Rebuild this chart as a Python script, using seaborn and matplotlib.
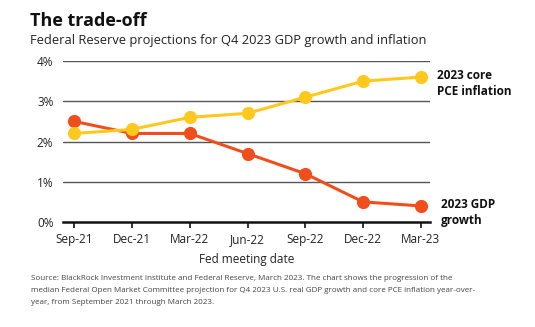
import matplotlib
matplotlib.use("Agg")
import matplotlib.pyplot as plt
import seaborn as sns
import pandas as pd

dates = ["Sep-21", "Dec-21", "Mar-22", "Jun-22", "Sep-22", "Dec-22", "Mar-23"]
gdp = [2.5, 2.2, 2.2, 1.7, 1.2, 0.5, 0.4]
pce = [2.2, 2.3, 2.6, 2.7, 3.1, 3.5, 3.6]
yticks = [0, 1, 2, 3, 4]
ytick_labels = ["0%", "1%", "2%", "3%", "4%"]

sns.set_theme(style="white")
plt.rcParams["font.family"] = ["Open Sans", "DejaVu Sans"]

df = pd.DataFrame({"pos": list(range(len(dates))) * 2,
                   "value": gdp + pce,
                   "series": ["gdp"] * len(dates) + ["pce"] * len(dates)})

fig = plt.figure(figsize=(5.35, 3.27), dpi=100)
ax = fig.add_axes([0.118, 0.321, 0.686, 0.4925])

RED = "#F04E1C"
YEL = "#FFC81E"
sns.lineplot(data=df, x="pos", y="value", hue="series", palette={"gdp": RED, "pce": YEL},
             hue_order=["gdp", "pce"], marker="o", markersize=9.5, markeredgewidth=0,
             linewidth=2.2, legend=False, ax=ax)

ax.set_xlim(-0.19, 6.16)
ax.set_ylim(0, 4)
ax.set_yticks(yticks)
ax.set_yticklabels(ytick_labels, fontsize=8.5, color="#222222")
ax.set_xticks(range(len(dates)))
ax.set_xticklabels(dates, fontsize=8.5, color="#222222")
for y in yticks[1:]:
    ax.axhline(y, color="#555555", linewidth=1.0, zorder=0)
for s in ["top", "right", "left"]:
    ax.spines[s].set_visible(False)
ax.spines["bottom"].set_color("#111111")
ax.spines["bottom"].set_linewidth(1.8)
ax.tick_params(axis="x", length=4, width=1.2, color="#111111", pad=4, direction="out", bottom=True)
ax.tick_params(axis="y", length=0, pad=7)
ax.set_ylabel("")
ax.set_xlabel("Fed meeting date", fontsize=8.5, color="#222222", labelpad=5)

ax.text(1.02, 0.86, "2023 core\nPCE inflation", transform=ax.transAxes, fontsize=8.5,
        fontweight="bold", color="#111111", va="center", ha="left", linespacing=1.3)
ax.text(1.03, 0.06, "2023 GDP\ngrowth", transform=ax.transAxes, fontsize=8.5,
        fontweight="bold", color="#111111", va="center", ha="left", linespacing=1.3)

fig.text(0.056, 0.935, "The trade-off", fontsize=13, fontweight="bold", color="#111111", va="center")
fig.text(0.056, 0.875, "Federal Reserve projections for Q4 2023 GDP growth and inflation",
         fontsize=9.3, color="#222222", va="center")
fig.text(0.058, 0.113,
         "Source: BlackRock Investment Institute and Federal Reserve, March 2023. The chart shows the progression of the\n"
         "median Federal Open Market Committee projection for Q4 2023 U.S. real GDP growth and core PCE inflation year-over-\n"
         "year, from September 2021 through March 2023.",
         fontsize=5.75, color="#444444", va="center", linespacing=2.0)

fig.savefig("out.png", dpi=100)
